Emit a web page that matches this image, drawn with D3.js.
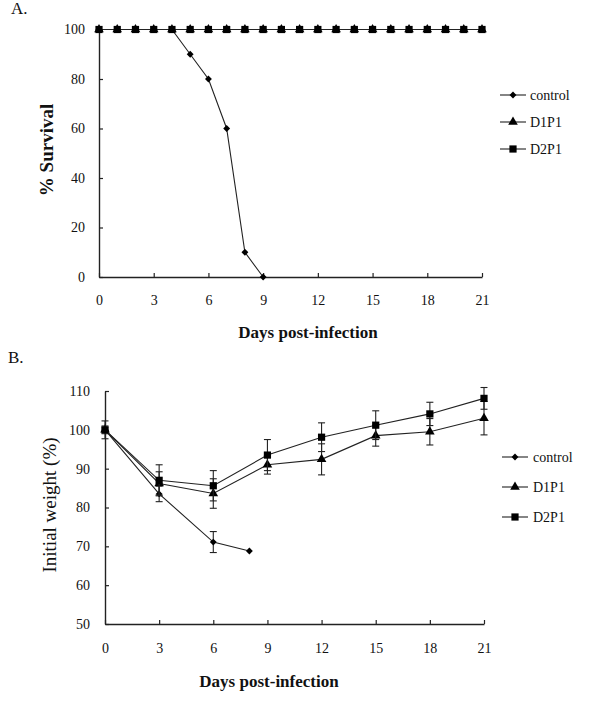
<!DOCTYPE html>
<html>
<head>
<meta charset="utf-8">
<script src="https://cdn.jsdelivr.net/npm/d3@7"></script>
<style>
  html, body { margin: 0; padding: 0; background: #fff; }
  svg { display: block; }
  svg text { font-family: "Liberation Serif", "Times New Roman", "DejaVu Serif", serif; }
</style>
</head>
<body>
<div id="chart"></div>
<script>
// ---- Panel A: survival (%) ----
const survivalDays = [0, 1, 2, 3, 4, 5, 6, 7, 8, 9, 10, 11, 12, 13, 14, 15, 16, 17, 18, 19, 20, 21];
const survivalControlDays = [0, 1, 2, 3, 4, 5, 6, 7, 8, 9];
const survivalControl = [100, 100, 100, 100, 100, 90, 80, 60, 10, 0];
const survivalD1P1 = [100, 100, 100, 100, 100, 100, 100, 100, 100, 100, 100, 100, 100, 100, 100, 100, 100, 100, 100, 100, 100, 100];
const survivalD2P1 = [100, 100, 100, 100, 100, 100, 100, 100, 100, 100, 100, 100, 100, 100, 100, 100, 100, 100, 100, 100, 100, 100];

// ---- Panel B: initial weight (%) ----
const weightControlDays = [0, 3, 6, 8];
const weightControl = [100, 83.5, 71.1, 68.8];
const weightControlErr = [0.5, 2.0, 2.7, 0];
const weightDays = [0, 3, 6, 9, 12, 15, 18, 21];
const weightD1P1 = [100, 86.2, 83.6, 91.0, 92.4, 98.5, 99.5, 103.0];
const weightD1P1Err = [2.3, 3.0, 3.8, 2.4, 4.0, 2.7, 3.4, 4.3];
const weightD2P1 = [100, 87.0, 85.6, 93.5, 98.1, 101.2, 104.1, 108.1];
const weightD2P1Err = [1.0, 4.0, 3.9, 4.0, 3.7, 3.7, 3.0, 2.8];

const xTicks = [0, 3, 6, 9, 12, 15, 18, 21];
const survivalTicks = [0, 20, 40, 60, 80, 100];
const weightTicks = [50, 60, 70, 80, 90, 100, 110];
const seriesNames = ["control", "D1P1", "D2P1"];

const W = 600, H = 706;
const SERIF = "Liberation Serif, Times New Roman, DejaVu Serif, serif";
const INK = "#222";

const svg = d3.select("#chart").append("svg")
    .attr("width", W)
    .attr("height", H)
    .attr("viewBox", `0 0 ${W} ${H}`);

svg.append("rect").attr("width", W).attr("height", H).attr("fill", "#fff");

// marker shapes
const symbolFor = {
    control: d3.symbol().type(d3.symbolDiamond2).size(30),
    D1P1: d3.symbol().type(d3.symbolTriangle).size(40),
    D2P1: d3.symbol().type(d3.symbolSquare).size(52)
};

function drawAxes(g, x, y, yTicks, xPad, yPad) {
    const xAxis = g.append("g")
        .attr("transform", `translate(0,${y.range()[0]})`)
        .call(d3.axisBottom(x).tickValues(xTicks).tickSizeInner(-4).tickSizeOuter(0).tickPadding(xPad));
    const yAxis = g.append("g")
        .attr("transform", `translate(${x.range()[0]},0)`)
        .call(d3.axisLeft(y).tickValues(yTicks).tickSizeInner(-4).tickSizeOuter(0).tickPadding(yPad));

    for (const ax of [xAxis, yAxis]) {
        ax.attr("font-family", null);
        ax.select(".domain").attr("stroke", INK).attr("stroke-width", 1.4);
        ax.selectAll(".tick line").attr("stroke", INK).attr("stroke-width", 1.2);
        ax.selectAll(".tick text")
            .attr("fill", "#111")
            .style("font-family", SERIF)
            .attr("font-size", "14px");
    }
}

function drawSeries(g, x, y, days, vals, name, errs) {
    const line = d3.line().x((d, i) => x(days[i])).y(d => y(d));
    g.append("path")
        .datum(vals)
        .attr("d", line)
        .attr("fill", "none")
        .attr("stroke", INK)
        .attr("stroke-width", 1.1);

    if (errs) {
        vals.forEach((v, i) => {
            if (!errs[i]) return;
            const cx = x(days[i]);
            const y1 = y(v + errs[i]), y2 = y(v - errs[i]);
            g.append("line").attr("x1", cx).attr("x2", cx).attr("y1", y1).attr("y2", y2)
                .attr("stroke", INK).attr("stroke-width", 1.1);
            for (const yy of [y1, y2]) {
                g.append("line").attr("x1", cx - 3.5).attr("x2", cx + 3.5).attr("y1", yy).attr("y2", yy)
                    .attr("stroke", INK).attr("stroke-width", 1.1);
            }
        });
    }

    g.selectAll(null)
        .data(vals)
        .enter().append("path")
        .attr("d", symbolFor[name])
        .attr("transform", (d, i) => `translate(${x(days[i])},${y(d)})`)
        .attr("fill", "#000");
}

function drawLegend(g, lx, ly, gap, textX) {
    seriesNames.forEach((name, i) => {
        const yy = ly + i * gap;
        g.append("line")
            .attr("x1", lx).attr("x2", lx + 26)
            .attr("y1", yy).attr("y2", yy)
            .attr("stroke", INK).attr("stroke-width", 1.1);
        g.append("path")
            .attr("d", symbolFor[name])
            .attr("transform", `translate(${lx + 13},${yy})`)
            .attr("fill", "#000");
        g.append("text")
            .attr("x", textX)
            .attr("y", yy)
            .attr("dy", "0.35em")
            .attr("fill", "#111")
            .style("font-family", SERIF)
            .attr("font-size", "14px")
            .text(name);
    });
}

// ---------- Panel A ----------
const gA = svg.append("g");
const xA = d3.scaleLinear().domain([0, 21]).range([99, 482]);
const yA = d3.scaleLinear().domain([0, 100]).range([277, 29.5]);

gA.append("text").attr("x", 11).attr("y", 14)
    .style("font-family", SERIF).attr("font-size", "17px").attr("fill", "#111").text("A.");

drawAxes(gA, xA, yA, survivalTicks, 18, 14);
drawSeries(gA, xA, yA, survivalControlDays, survivalControl, "control");
drawSeries(gA, xA, yA, survivalDays, survivalD1P1, "D1P1");
drawSeries(gA, xA, yA, survivalDays, survivalD2P1, "D2P1");
drawLegend(gA, 500, 95, 27, 530);

gA.append("text")
    .attr("transform", "translate(53,150) rotate(-90)")
    .attr("text-anchor", "middle")
    .style("font-family", SERIF).attr("font-size", "19px").attr("font-weight", "700")
    .attr("fill", "#111")
    .text("% Survival");

gA.append("text")
    .attr("x", 308).attr("y", 338)
    .attr("text-anchor", "middle")
    .style("font-family", SERIF).attr("font-size", "17px").attr("font-weight", "700")
    .attr("fill", "#111")
    .text("Days post-infection");

// ---------- Panel B ----------
const gB = svg.append("g");
const xB = d3.scaleLinear().domain([0, 21]).range([105, 484]);
const yB = d3.scaleLinear().domain([50, 110]).range([624, 391]);

gB.append("text").attr("x", 8).attr("y", 363)
    .style("font-family", SERIF).attr("font-size", "17px").attr("fill", "#111").text("B.");

drawAxes(gB, xB, yB, weightTicks, 19, 15);
drawSeries(gB, xB, yB, weightControlDays, weightControl, "control", weightControlErr);
drawSeries(gB, xB, yB, weightDays, weightD1P1, "D1P1", weightD1P1Err);
drawSeries(gB, xB, yB, weightDays, weightD2P1, "D2P1", weightD2P1Err);
drawLegend(gB, 502, 457, 30, 533);

gB.append("text")
    .attr("transform", "translate(56,505) rotate(-90)")
    .attr("text-anchor", "middle")
    .style("font-family", SERIF).attr("font-size", "19px")
    .attr("fill", "#111")
    .text("Initial weight (%)");

gB.append("text")
    .attr("x", 269).attr("y", 687)
    .attr("text-anchor", "middle")
    .style("font-family", SERIF).attr("font-size", "17px").attr("font-weight", "700")
    .attr("fill", "#111")
    .text("Days post-infection");
</script>
</body>
</html>
